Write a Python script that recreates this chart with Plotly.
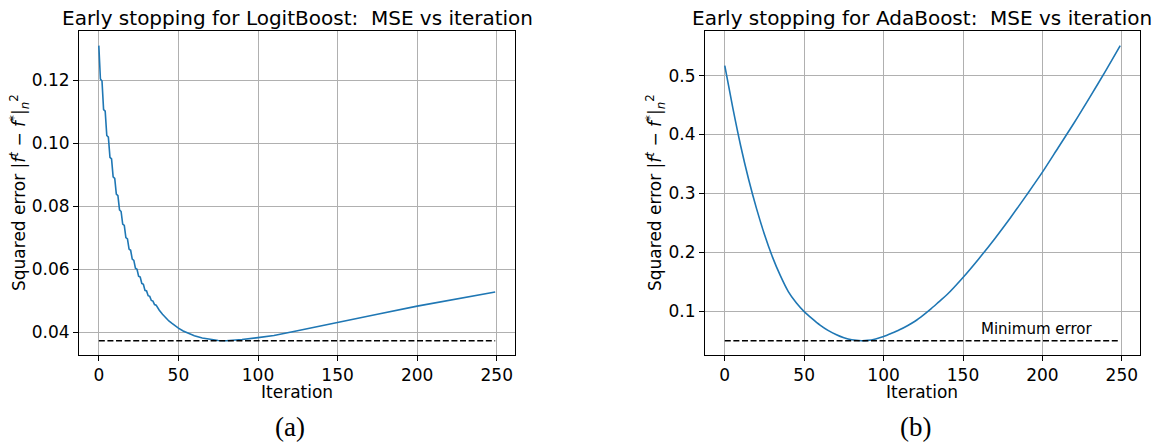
import plotly.graph_objects as go

# ---- Data ----
logit_iter = [0, 1, 2, 3, 4, 5, 6, 7, 8, 9, 10, 11, 12, 13, 14, 15, 16, 17, 18, 19, 20,
              21, 22, 23, 24, 25, 26, 27, 28, 29, 30, 31, 32, 33, 34, 35, 36, 37, 38, 40,
              42, 44, 46, 48, 50, 53, 56, 60, 65, 70, 75, 80, 85, 90, 100, 110, 124, 137,
              150, 175, 200, 225, 249]
logit_mse = [0.1309, 0.1203, 0.1197, 0.1106, 0.1101, 0.1024, 0.1019, 0.0955, 0.0950,
             0.0893, 0.0888, 0.0838, 0.0833, 0.0788, 0.0783, 0.0743, 0.0739, 0.0700,
             0.0696, 0.0664, 0.0660, 0.0632, 0.0628, 0.0603, 0.0600, 0.0578, 0.0575,
             0.0555, 0.0552, 0.0533, 0.0531, 0.0516, 0.0514, 0.0501, 0.0499, 0.0488,
             0.0486, 0.0477, 0.0470, 0.0457, 0.0446, 0.0436, 0.0428, 0.0420, 0.0413,
             0.0404, 0.0397, 0.0389, 0.0382, 0.0377, 0.0374, 0.0373, 0.0374, 0.0377,
             0.0383, 0.0390, 0.0404, 0.0418, 0.0431, 0.0457, 0.0483, 0.0506, 0.0528]
logit_min = 0.0373

ada_iter = [0, 5, 10, 15, 20, 25, 30, 35, 40, 45, 50, 55, 60, 65, 70, 75, 80, 86, 90,
            95, 100, 105, 110, 115, 120, 125, 130, 135, 140, 150, 160, 170, 180, 190,
            200, 210, 220, 230, 240, 249]
ada_mse = [0.517, 0.446, 0.381, 0.324, 0.274, 0.230, 0.192, 0.160, 0.133, 0.114, 0.099,
           0.087, 0.076, 0.067, 0.060, 0.0545, 0.051, 0.0495, 0.0500, 0.0525, 0.0565,
           0.062, 0.068, 0.075, 0.083, 0.093, 0.104, 0.116, 0.128, 0.157, 0.189, 0.223,
           0.259, 0.297, 0.336, 0.378, 0.420, 0.464, 0.509, 0.551]
ada_min = 0.0495

x_ticks = [0, 50, 100, 150, 200, 250]
min_start, min_end = 0, 249
min_label = "Minimum error"
min_label_x = 160

titles = ["Early stopping for LogitBoost:  MSE vs iteration",
          "Early stopping for AdaBoost:  MSE vs iteration"]
captions = ["(a)", "(b)"]
ylabel = "Squared error |<i>f</i><sup><i>t</i></sup> \u2212 <i>f</i><sup>*</sup>|<sub><i>n</i></sub><sup>2</sup>"
xlabel = "Iteration"

# ---- Figure ----
W, H = 1161, 444
BLUE = "#1f77b4"
FONT = "DejaVu Sans"
DASH = "6px,2.6px"

fig = go.Figure()
fig.add_trace(go.Scatter(x=logit_iter, y=logit_mse, mode="lines",
                         line=dict(color=BLUE, width=1.6), xaxis="x", yaxis="y",
                         showlegend=False))
fig.add_trace(go.Scatter(x=[min_start, min_end], y=[logit_min, logit_min], mode="lines",
                         line=dict(color="black", width=1.6, dash=DASH), xaxis="x", yaxis="y",
                         showlegend=False))
fig.add_trace(go.Scatter(x=ada_iter, y=ada_mse, mode="lines", line_shape="spline",
                         line=dict(color=BLUE, width=1.6, smoothing=0.8), xaxis="x2", yaxis="y2",
                         showlegend=False))
fig.add_trace(go.Scatter(x=[min_start, min_end], y=[ada_min, ada_min], mode="lines",
                         line=dict(color="black", width=1.6, dash=DASH), xaxis="x2", yaxis="y2",
                         showlegend=False))

def px_x(p):
    return p / W

def px_y(p):
    return 1 - p / H

ydom = [px_y(355), px_y(31)]
common_x = dict(range=[-12.45, 261.45], tickvals=x_ticks, ticks="outside", ticklen=5,
                tickcolor="black", showline=True, linecolor="black", linewidth=1, mirror=True,
                showgrid=True, gridcolor="#b0b0b0", gridwidth=1, zeroline=False,
                tickfont=dict(family=FONT, size=17, color="black"))
common_y = dict(ticks="outside", ticklen=5, tickcolor="black", showline=True,
                linecolor="black", linewidth=1, mirror=True, showgrid=True,
                gridcolor="#b0b0b0", gridwidth=1, zeroline=False,
                tickfont=dict(family=FONT, size=17, color="black"))

fig.update_layout(
    width=W, height=H,
    margin=dict(l=0, r=0, t=0, b=0),
    paper_bgcolor="white", plot_bgcolor="white",
    xaxis=dict(domain=[px_x(79), px_x(515)], anchor="y", **common_x),
    yaxis=dict(domain=ydom, anchor="x", range=[0.0328, 0.13554],
               tickvals=[0.04, 0.06, 0.08, 0.10, 0.12], tickformat=".2f", **common_y),
    xaxis2=dict(domain=[px_x(705), px_x(1140)], anchor="y2", **common_x),
    yaxis2=dict(domain=ydom, anchor="x2", range=[0.0252, 0.576],
                tickvals=[0.1, 0.2, 0.3, 0.4, 0.5], tickformat=".1f", **common_y),
)

anns = []
centers = [297, 922]
for i, cx in enumerate(centers):
    anns.append(dict(text=titles[i], x=px_x(cx), y=px_y(18.5), xref="paper", yref="paper",
                     showarrow=False, xanchor="center", yanchor="middle",
                     font=dict(family=FONT, size=20, color="black")))
    anns.append(dict(text=xlabel, x=px_x(cx), y=px_y(392), xref="paper", yref="paper",
                     showarrow=False, xanchor="center", yanchor="middle",
                     font=dict(family=FONT, size=17, color="black")))
    anns.append(dict(text=captions[i], x=px_x([290, 916][i]), y=px_y(427), xref="paper",
                     yref="paper", showarrow=False, xanchor="center", yanchor="middle",
                     font=dict(family="Liberation Serif", size=27, color="black")))
    anns.append(dict(text=ylabel, x=px_x([19, 655][i]), y=px_y(193), xref="paper",
                     yref="paper", showarrow=False, xanchor="center", yanchor="middle",
                     textangle=-90, font=dict(family=FONT, size=17, color="black")))
anns.append(dict(text=min_label, x=min_label_x, y=ada_min, xref="x2", yref="y2",
                 showarrow=False, xanchor="left", yanchor="bottom", yshift=1,
                 font=dict(family=FONT, size=15, color="black")))
fig.update_layout(annotations=anns)

fig.write_html("out.html", config={"displayModeBar": False},
               post_script="document.body.style.margin='0';")
